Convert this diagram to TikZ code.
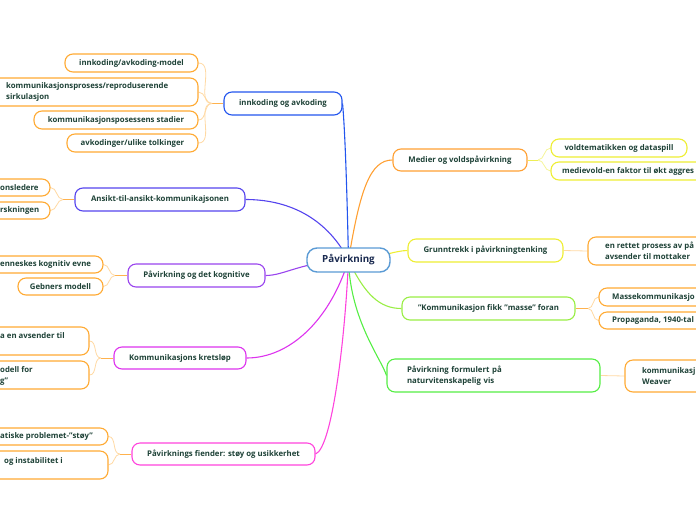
\documentclass[tikz,border=0pt]{standalone}
\usepackage{fontspec}
\setmainfont{Open Sans}
\usetikzlibrary{backgrounds}
\definecolor{txtc}{HTML}{1E4237}
\definecolor{hubtext}{HTML}{1A2A50}
\definecolor{hubc}{HTML}{5B9BD5}
\definecolor{cBlue}{HTML}{2255EE}
\definecolor{cIndigo}{HTML}{5544EE}
\definecolor{cPurple}{HTML}{9944EE}
\definecolor{cMagenta}{HTML}{DD33EE}
\definecolor{cPink}{HTML}{FF44DD}
\definecolor{cOrange}{HTML}{FFA033}
\definecolor{cYellow}{HTML}{EEEE33}
\definecolor{cLime}{HTML}{99EE44}
\definecolor{cGreen}{HTML}{55EE44}
\definecolor{leafc}{HTML}{FFAA33}
\definecolor{stubc}{HTML}{FFB24D}
\definecolor{twigc}{HTML}{FFD9A3}
\definecolor{ystub}{HTML}{EEEE55}
\definecolor{ytwig}{HTML}{F5F59A}
\begin{document}
\begin{tikzpicture}[x=1pt,y=-1pt,
  every node/.style={font=\bfseries\fontsize{7.8}{11}\selectfont, text=txtc},
  base/.style={draw, fill=white, rounded corners=8pt, line width=1.1pt, inner sep=0pt},
  hub/.style={base, draw=hubc, line width=1.4pt, rounded corners=10pt, minimum width=83pt, minimum height=24pt, font=\bfseries\fontsize{9.8}{11}\selectfont, text=hubtext},
  br/.style={base, minimum height=23pt},
  leaf/.style={base, draw=leafc, minimum height=18pt},
  yleaf/.style={base, draw=cYellow, minimum height=18pt},
  txt/.style={inner sep=0pt, anchor=west, align=left},
  main/.style={line width=1.1pt},
  stub/.style={line width=1pt, draw=stubc},
  twig/.style={line width=0.8pt, draw=twigc},
  ystubl/.style={line width=1pt, draw=ystub},
  ytwigl/.style={line width=0.8pt, draw=ytwig}
]
\useasboundingbox (0,0) rectangle (696,520);
\clip (0,0) rectangle (696,520);

% hub
\node[hub] (c) at (348.5,260) {Påvirkning};

% main branches
\node[br, draw=cBlue, minimum width=118pt] (b1) at (283,103.5) {innkoding og avkoding};
\node[br, draw=cIndigo, minimum width=170pt] (b2) at (160,199.5) {Ansikt-til-ansikt-kommunikajsonen};
\node[br, draw=cPurple, minimum width=137pt] (b3) at (196.5,275.5) {Påvirkning og det kognitive};
\node[br, draw=cMagenta, minimum width=132pt, minimum height=22pt] (b4) at (180,358) {Kommunikasjons kretsløp};
\node[br, draw=cPink, minimum width=183pt, minimum height=22pt] (b5) at (223.5,454) {Påvirknings fiender: støy og usikkerhet};
\node[br, draw=cOrange, minimum width=134pt, minimum height=22pt] (b6) at (460,160) {Medier og voldspåvirkning};
\node[br, draw=cYellow, minimum width=155pt] (b7) at (485.5,250.5) {Grunntrekk i påvirkningtenking};
\node[br, draw=cLime, minimum width=173pt] (b8) at (488.5,308.5) {"Kommunikasjon fikk "masse" foran};
\node[br, draw=cGreen, minimum width=213pt, minimum height=33pt, text width=173pt, align=left, inner xsep=20pt] (b9) at (493.5,375.5) {Påvirkning formulert på\\naturvitenskapelig vis};

% leaves of b1
\node[leaf, minimum width=133pt] (l1) at (131.5,63) {innkoding/avkoding-model};
\node[leaf, minimum width=228pt, minimum height=28pt] (l2) at (84,92) {};
\node[txt] (l2t) at (6,92) {kommunikasjonsprosess/reproduserende\\sirkulasjon};
\node[leaf, minimum width=164pt] (l3) at (116,120) {kommunikasjonsposessens stadier};
\node[leaf, minimum width=131pt] (l4) at (132.5,143) {avkodinger/ulike tolkinger};

% leaves of b2
\node[leaf, minimum width=90pt, minimum height=17pt] (a1) at (5,187.5) {};
\node[txt] (a1t) at (0,187.5) {onsledere};
\node[leaf, minimum width=90pt, minimum height=17pt] (a2) at (5,210.5) {};
\node[txt] (a2t) at (0,210.5) {rskningen};

% leaves of b3
\node[leaf, minimum width=143pt, minimum height=17pt] (k1) at (31.5,264.5) {};
\node[txt] (k1t) at (0,264.5) {enneskes kognitiv evne};
\node[leaf, minimum width=85pt, minimum height=17pt] (k2) at (60.5,286.5) {Gebners modell};

% leaves of b4
\node[leaf, minimum width=129pt, minimum height=28pt] (r1) at (24.5,341) {};
\node[txt] (r1t) at (0,336) {a en avsender til};
\node[leaf, minimum width=129pt, minimum height=28pt] (r2) at (24.5,375) {};
\node[txt] (r2t) at (0,376) {odell for\\g"};

% leaves of b5
\node[leaf, minimum width=148pt, minimum height=17pt] (f1) at (34,436.5) {};
\node[txt] (f1t) at (0,436.5) {atiske problemet-"støy"};
\node[leaf, minimum width=148pt, minimum height=28pt] (f2) at (34,465) {};
\node[txt] (f2t) at (4,461) {og instabilitet i};

% leaves of b6
\node[yleaf, minimum width=136pt] (m1) at (619,148) {voldtematikken og dataspill};
\node[yleaf, minimum width=219pt] (m2) at (660.5,171) {};
\node[txt] (m2t) at (562,171) {medievold-en faktor til økt aggres};

% leaf of b7
\node[leaf, minimum width=182pt, minimum height=28pt] (g1) at (679,251) {};
\node[txt] (g1t) at (605,251) {en rettet prosess av på\\avsender til mottaker};

% leaves of b8
\node[leaf, minimum width=171pt] (s1) at (684.5,297) {};
\node[txt] (s1t) at (612,297) {Massekommunikasjo};
\node[leaf, minimum width=171pt, minimum height=17pt] (s2) at (684.5,320.5) {};
\node[txt] (s2t) at (612,320.5) {Propaganda, 1940-tal};

% leaf of b9
\node[leaf, minimum width=145pt, minimum height=32pt] (n1) at (697.5,376) {};
\node[txt] (n1t) at (642,376) {kommunikasj\\Weaver};

% junctions
\coordinate (j1) at (212,103.5);
\coordinate (jA) at (63,199.5);
\coordinate (jK) at (115,275.5);
\coordinate (jR) at (101,358);
\coordinate (jF) at (120,454);
\coordinate (jM) at (538,160);
\coordinate (jS) at (588,308.5);

\begin{pgfonlayer}{background}
\clip (0,0) rectangle (696,520);
% main connectors
\draw[main, cBlue] (c.center) .. controls (347,190) and (345,130) .. (b1.east);
\draw[main, cIndigo] (c.center) .. controls (325,215) and (285,199.5) .. (b2.east);
\draw[main, cPurple] (c.center) .. controls (300,262) and (285,275.5) .. (b3.east);
\draw[main, cMagenta] (c.center) .. controls (330,320) and (290,358) .. (b4.east);
\draw[main, cPink] (c.center) .. controls (345,340) and (332,448) .. (b5.east);
\draw[main, cOrange] (c.center) .. controls (360,190) and (370,160) .. (b6.west);
\draw[main, cYellow] (c.center) .. controls (380,258) and (395,250.5) .. (b7.west);
\draw[main, cLime] (c.center) .. controls (365,295) and (380,308.5) .. (b8.west);
\draw[main, cGreen] (c.center) .. controls (350,320) and (382,360) .. (b9.west);

% b1 children
\draw[stub] (b1.west) -- (j1);
\foreach \n in {l1,l2,l3,l4} \draw[twig] (j1) to[out=180,in=0] (\n.east);
% b2 children
\draw[stub] (b2.west) -- (jA);
\foreach \n in {a1,a2} \draw[twig] (jA) to[out=180,in=0] (\n.east);
% b3 children
\draw[stub] (b3.west) -- (jK);
\foreach \n in {k1,k2} \draw[twig] (jK) to[out=180,in=0] (\n.east);
% b4 children
\draw[stub] (b4.west) -- (jR);
\foreach \n in {r1,r2} \draw[twig] (jR) to[out=180,in=0] (\n.east);
% b5 children
\draw[stub] (b5.west) -- (jF);
\foreach \n in {f1,f2} \draw[twig] (jF) to[out=180,in=0] (\n.east);
% b6 children
\draw[ystubl] (b6.east) -- (jM);
\foreach \n in {m1,m2} \draw[ytwigl] (jM) to[out=0,in=180] (\n.west);
% b7 child
\draw[twig] (b7.east) -- (g1.west);
% b8 children
\draw[stub] (b8.east) -- (jS);
\foreach \n in {s1,s2} \draw[twig] (jS) to[out=0,in=180] (\n.west);
% b9 child
\draw[twig] (b9.east) -- (n1.west);
\end{pgfonlayer}
\end{tikzpicture}
\end{document}
